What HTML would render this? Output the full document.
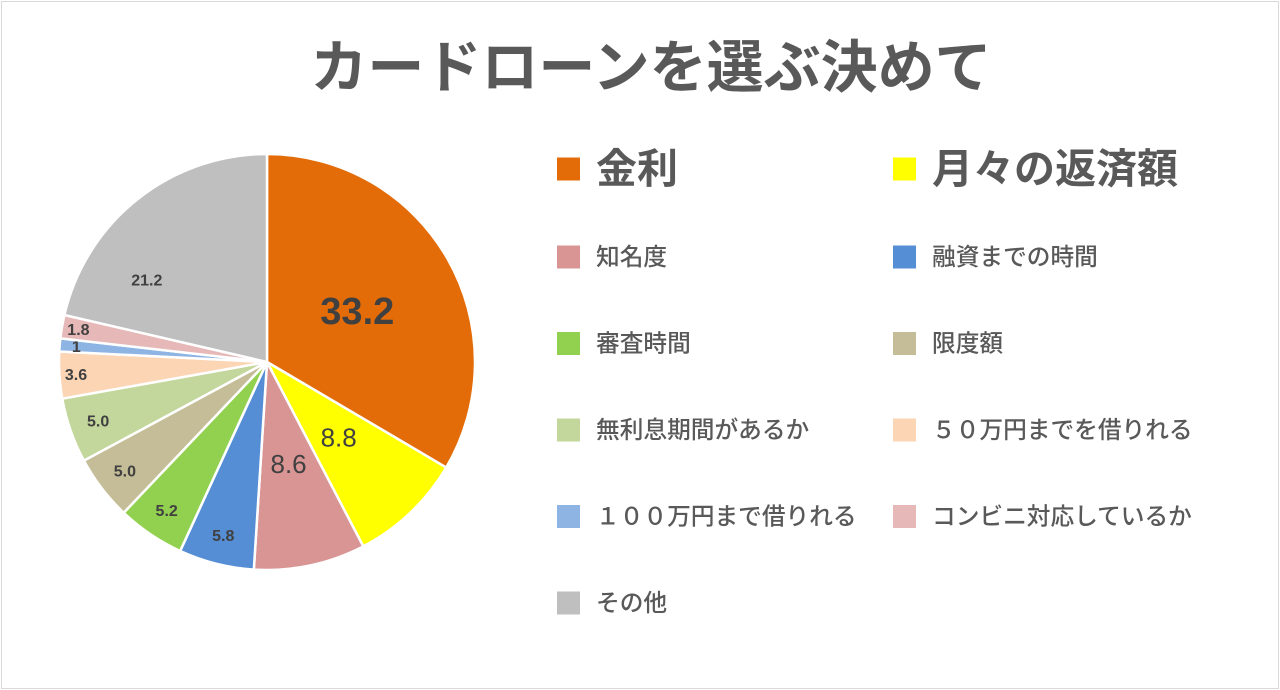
<!DOCTYPE html>
<html><head><meta charset="utf-8"><style>
body{margin:0;background:#fff;width:1280px;height:690px;overflow:hidden;font-family:"Liberation Sans","Noto Sans CJK JP",sans-serif}
#frame{position:absolute;left:1px;top:1px;width:1276px;height:686px;border:1px solid #d9d9d9}
</style></head><body>
<div id="frame"></div>
<svg id="c" width="1280" height="690" style="position:absolute;left:0;top:0">
<text x="651" y="87" text-anchor="middle" font-size="57" font-weight="bold" fill="#595959">カードローンを選ぶ決めて</text>
</svg>
<script>
const categories=["金利","月々の返済額","知名度","融資までの時間","審査時間","限度額","無利息期間があるか","５０万円までを借りれる","１００万円まで借りれる","コンビニ対応しているか","その他"];
const values=[33.2,8.8,8.6,5.8,5.2,5.0,5.0,3.6,1,1.8,21.2];
const valueLabels=["33.2","8.8","8.6","5.8","5.2","5.0","5.0","3.6","1","1.8","21.2"];
const colors=["#E36C09","#FFFF00","#D99594","#558ED5","#92D050","#C4BD97","#C3D69B","#FCD5B5","#8EB4E3","#E6B9B8","#BFBFBF"];
const svg=document.getElementById('c');const NS="http://www.w3.org/2000/svg";
const cx=267,cy=362,R=208;
const total=values.reduce((a,b)=>a+b,0);
function pt(a,r){return [cx+r*Math.sin(a),cy-r*Math.cos(a)];}
let acc=0;
values.forEach((v,i)=>{
  const a0=acc/total*2*Math.PI;acc+=v;const a1=acc/total*2*Math.PI;
  const p0=pt(a0,R),p1=pt(a1,R);
  const p=document.createElementNS(NS,'path');
  p.setAttribute('d',`M${cx},${cy}L${p0[0]},${p0[1]}A${R},${R} 0 ${a1-a0>Math.PI?1:0} 1 ${p1[0]},${p1[1]}Z`);
  p.setAttribute('fill',colors[i]);p.setAttribute('stroke','#fff');p.setAttribute('stroke-width','2.5');
  
  
  svg.appendChild(p);
  let am=(a0+a1)/2;
  if(v>20&&v<30) am-=0.3;
  const f=v>30?0.5:v>20?0.7:v>=8?0.5:v>=5?0.86:0.92;
  const lp=pt(am,R*f);
  const t=document.createElementNS(NS,'text');
  const fs=v>30?38:(v>=8&&v<20)?26:16;
  t.setAttribute('x',lp[0]);t.setAttribute('y',lp[1]+fs*0.36);
  t.setAttribute('text-anchor','middle');t.setAttribute('font-size',fs);
  t.setAttribute('font-weight',(v>=8&&v<20)?'normal':'bold');t.setAttribute('fill','#404040');
  t.textContent=valueLabels[i];
  
  
  svg.appendChild(t);
});
categories.forEach((c,i)=>{
  const col=i%2,row=Math.floor(i/2);
  const x=col?893:557;
  const y=row===0?169:257+(row-1)*86.5;
  const big=row===0;
  const s=23;
  const r=document.createElementNS(NS,'rect');
  r.setAttribute('x',x);r.setAttribute('y',y-s/2);r.setAttribute('width',s);r.setAttribute('height',s);r.setAttribute('fill',colors[i]);
  
  
  svg.appendChild(r);
  const t=document.createElementNS(NS,'text');
  t.setAttribute('x',x+39);t.setAttribute('y',y+(big?14:8));
  t.setAttribute('font-size',big?41:23.7);t.setAttribute('font-weight',big?'bold':'500');t.setAttribute('fill','#595959');
  t.textContent=c;
  
  
  svg.appendChild(t);
});
</script>
</body></html>
